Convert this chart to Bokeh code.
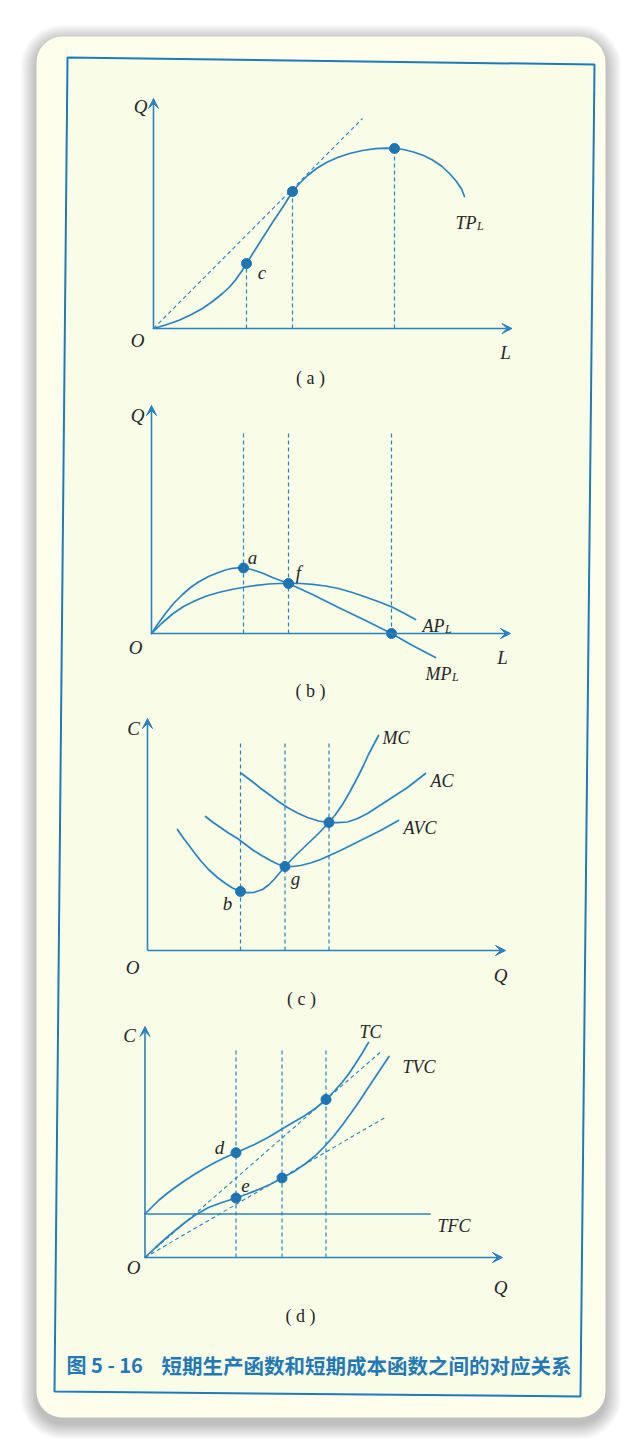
from bokeh.plotting import figure
from bokeh.models import Range1d, BoxAnnotation, Arrow, VeeHead, Label
from bokeh.embed import file_html
from bokeh.resources import INLINE

# ---------------- data (panel units, origin = 0,0) ----------------
# (a) total product curve TP_L
TP_L_x = [0, 1.2, 2.5, 3.7, 4.9, 5.9, 6.9, 7.6, 8.2, 8.8, 9.3, 10.5, 11.9, 13.1, 13.9, 14.6, 15.4,
          16.3, 17.3, 18.4, 19.6, 20.9, 22.2, 23.2, 24.1, 25.0, 26.0, 27.0, 27.9, 28.8, 29.6, 30.3,
          30.8, 31.1]
TP_L_y = [0, 0.35, 0.8, 1.35, 2.0, 2.7, 3.5, 4.15, 4.85, 5.7, 6.5, 8.4, 10.6, 12.4, 13.7, 14.5, 15.3,
          16.0, 16.6, 17.1, 17.5, 17.8, 17.98, 18.03, 18.0, 17.9, 17.65, 17.3, 16.85, 16.25, 15.5, 14.7,
          13.95, 13.2]
A_ray_x = [0, 20.9]
A_ray_y = [0, 21.0]
A_marks_x = [9.3, 13.9, 24.1]
A_marks_y = [6.5, 13.7, 18.0]

# (b) marginal and average product
MP_L_x = [0, 0.7, 1.4, 2.2, 3.1, 3.9, 4.7, 5.7, 6.7, 7.4, 8.0, 8.6, 9.2, 9.8, 10.4, 11.2, 12.1, 13.7,
          16.1, 18.7, 21.4, 24.0, 26.1, 28.4]
MP_L_y = [0, 1.05, 2.0, 3.0, 3.9, 4.6, 5.15, 5.7, 6.1, 6.35, 6.5, 6.57, 6.55, 6.45, 6.28, 6.0, 5.6, 5.0,
          3.9, 2.6, 1.3, 0.0, -1.2, -2.4]
AP_L_x = [0, 1.0, 2.1, 3.2, 4.4, 5.5, 6.7, 8.0, 9.4, 10.5, 11.7, 12.7, 13.7, 14.9, 16.1, 17.4, 18.7,
          20.0, 21.4, 22.8, 24.1, 25.3, 26.4]
AP_L_y = [0, 1.0, 1.95, 2.7, 3.3, 3.75, 4.1, 4.4, 4.65, 4.82, 4.95, 5.0, 5.02, 5.0, 4.92, 4.75, 4.5,
          4.12, 3.65, 3.15, 2.62, 2.0, 1.4]
B_marks_x = [9.2, 13.7, 24.0]
B_marks_y = [6.55, 5.0, 0.0]
B_vline_top = 20.3

# (c) marginal, average and average variable cost
MC_x = [3.0, 3.5, 4.0, 4.6, 5.3, 6.1, 7.0, 7.8, 8.5, 9.3, 10.0, 10.7, 11.5, 12.1, 12.7, 13.2, 13.75,
        14.8, 16.0, 17.1, 18.15, 18.8, 19.5, 20.2, 21.0, 21.6, 22.1, 22.6, 23.1]
MC_y = [12.1, 11.35, 10.7, 9.9, 9.0, 8.1, 7.3, 6.7, 6.25, 5.9, 5.78, 5.82, 6.1, 6.55, 7.15, 7.75, 8.4,
        9.5, 10.65, 11.7, 12.8, 13.6, 14.6, 15.8, 17.3, 18.5, 19.6, 20.55, 21.5]
AVC_x = [5.8, 6.5, 7.3, 8.1, 9.0, 9.8, 10.6, 11.5, 12.3, 13.0, 13.75, 14.5, 15.3, 16.3, 17.3, 18.3,
         19.3, 20.3, 21.3, 22.3, 23.3, 24.2, 25.1]
AVC_y = [13.4, 12.85, 12.3, 11.75, 11.2, 10.6, 10.0, 9.45, 9.0, 8.65, 8.4, 8.4, 8.5, 8.75, 9.1, 9.55,
         10.0, 10.5, 11.0, 11.5, 12.0, 12.5, 13.0]
AC_x = [9.4, 10.0, 10.6, 11.4, 12.3, 13.1, 14.0, 15.0, 16.0, 17.1, 18.15, 19.0, 20.0, 21.0, 22.0, 23.0,
        24.0, 25.0, 26.0, 26.9, 27.8]
AC_y = [17.7, 17.25, 16.8, 16.15, 15.5, 14.9, 14.3, 13.75, 13.3, 12.95, 12.8, 12.78, 12.85, 13.2, 13.7,
        14.35, 15.0, 15.65, 16.3, 17.0, 17.7]
C_marks_x = [9.3, 13.75, 18.15]
C_marks_y = [5.9, 8.4, 12.8]
C_vline_top = 20.7

# (d) total, total variable and total fixed cost
TC_x = [0, 0.7, 1.35, 2.2, 3.0, 4.0, 5.0, 6.0, 7.0, 8.0, 9.1, 10.0, 11.0, 12.3, 13.7, 14.8, 16.0, 17.1,
        18.1, 18.9, 19.7, 20.4, 21.0, 21.7, 22.35]
TC_y = [4.35, 5.05, 5.7, 6.4, 7.0, 7.7, 8.35, 8.95, 9.5, 10.0, 10.48, 10.88, 11.33, 12.0, 12.85, 13.5,
        14.2, 14.95, 15.8, 16.6, 17.5, 18.4, 19.3, 20.4, 21.5]
TVC_x = [0, 1.0, 2.0, 3.0, 4.0, 5.1, 6.35, 7.7, 9.1, 10.2, 11.35, 12.5, 13.7, 14.9, 16.0, 17.0, 17.85,
         18.8, 19.7, 20.5, 21.35, 22.2, 23.0, 23.7, 24.4]
TVC_y = [0, 0.95, 1.85, 2.7, 3.5, 4.3, 5.0, 5.5, 5.95, 6.35, 6.8, 7.3, 7.95, 8.6, 9.35, 10.15, 11.0,
         12.05, 13.2, 14.3, 15.5, 16.8, 18.0, 19.05, 20.1]
TFC_x = [0, 28.5]
TFC_y = [4.35, 4.35]
D_ray1_x = [0, 23.5]
D_ray1_y = [0, 20.5]
D_ray2_x = [0, 24.0]
D_ray2_y = [0, 14.0]
D_marks_x = [9.1, 18.1, 9.1, 13.7]
D_marks_y = [10.48, 15.8, 5.95, 7.95]
D_vlines_x = [9.1, 13.7, 18.1]
D_vline_top = 20.7

# axis lengths (x tip, y tip) per panel
AXIS_TIPS = {"a": (35.85, 23.0), "b": (35.9, 22.8), "c": (35.8, 23.2), "d": (35.75, 23.1)}

# ---------------- layout / style ----------------
W, H = 642, 1454
S = 10.0  # px per panel unit
ORIGINS = {"a": (153, 328), "b": (151, 633), "c": (147, 950), "d": (144.5, 1257)}
BLUE = "#2a82bf"
DOT = "#1f74b3"
INK = "#262626"
CARD = "#FDFFEC"
INNER = "#F9FDE8"
SERIF = "Liberation Serif"


def Y(py):
    return H - py


p = figure(width=W, height=H, x_range=Range1d(0, W), y_range=Range1d(0, H),
           x_axis_type=None, y_axis_type=None, output_backend="svg",
           toolbar_location=None, min_border=0, outline_line_color=None,
           background_fill_color="#FFFFFF", border_fill_color="#FFFFFF")

p.extra_x_ranges = {k: Range1d(-ox / S, (W - ox) / S) for k, (ox, oy) in ORIGINS.items()}
p.extra_y_ranges = {k: Range1d((oy - H) / S, oy / S) for k, (ox, oy) in ORIGINS.items()}

# card shadow and card
for s in range(16, 0, -1):
    p.add_layout(BoxAnnotation(left=36 - s, right=605 + s, top=Y(36 - s + 4), bottom=Y(1417 + s + 6),
                               fill_color="#000000", fill_alpha=0.014, line_color=None,
                               border_radius=26 + s, level="underlay"))
p.add_layout(BoxAnnotation(left=36, right=605, top=Y(36), bottom=Y(1417), fill_color=CARD,
                           fill_alpha=1.0, line_color=None, border_radius=26, level="underlay"))

# scanned frame (slightly skewed)
p.patch([67, 594, 580, 54], [Y(57), Y(64), Y(1396), Y(1391)], fill_color=INNER,
        line_color="#1f7ab8", line_width=2)


def kw(k):
    return dict(x_range_name=k, y_range_name=k)


def axes(k):
    xt, yt = AXIS_TIPS[k]
    for (xe, ye) in [(xt, 0), (0, yt)]:
        p.add_layout(Arrow(end=VeeHead(size=10, fill_color=BLUE, line_color=BLUE, line_width=1),
                           x_start=0, y_start=0, x_end=xe, y_end=ye,
                           line_color=BLUE, line_width=1.6, **kw(k)))


def curve(k, xs, ys, dash=None):
    if dash:
        p.line(xs, ys, line_color=BLUE, line_width=1.1, line_dash=dash, **kw(k))
    else:
        p.line(xs, ys, line_color=BLUE, line_width=1.7, line_cap="round", line_join="round", **kw(k))


def vlines(k, xs, tops):
    p.segment(x0=xs, y0=[0] * len(xs), x1=xs, y1=tops, line_color=BLUE, line_width=1.2,
              line_dash="4 3", **kw(k))


def dots(k, xs, ys):
    p.scatter(xs, ys, size=10, fill_color=DOT, line_color=DOT, **kw(k))


# (a)
axes("a")
curve("a", A_ray_x, A_ray_y, dash="4 3")
vlines("a", A_marks_x, A_marks_y)
curve("a", TP_L_x, TP_L_y)
dots("a", A_marks_x, A_marks_y)

# (b)
axes("b")
vlines("b", B_marks_x, [B_vline_top] * 3)
curve("b", AP_L_x, AP_L_y)
curve("b", MP_L_x, MP_L_y)
dots("b", B_marks_x, B_marks_y)

# (c)
axes("c")
vlines("c", C_marks_x, [C_vline_top] * 3)
curve("c", AC_x, AC_y)
curve("c", AVC_x, AVC_y)
curve("c", MC_x, MC_y)
dots("c", C_marks_x, C_marks_y)

# (d)
axes("d")
vlines("d", D_vlines_x, [D_vline_top] * 3)
curve("d", D_ray1_x, D_ray1_y, dash="4 3")
curve("d", D_ray2_x, D_ray2_y, dash="4 3")
curve("d", TFC_x, TFC_y)
curve("d", TC_x, TC_y)
curve("d", TVC_x, TVC_y)
dots("d", D_marks_x, D_marks_y)


# ---------------- text ----------------
def label(text, x, y, size=18, align="center", base="middle", style="italic", font=SERIF,
          color=INK):
    p.add_layout(Label(x=x, y=Y(y), text=text, text_align=align, text_baseline=base,
                       text_font=font, text_font_style=style, text_font_size=f"{size}px",
                       text_color=color))


def sub_label(main, sub, x, y, main_w):
    label(main, x, y, align="left", base="alphabetic")
    label(sub, x + main_w, y + 3.5, size=12, align="left", base="alphabetic")


# axis letters
for t, x, y in [("Q", 140, 106), ("O", 137, 340), ("L", 505, 352),
                ("Q", 137, 415), ("O", 135, 647), ("L", 502, 657),
                ("C", 133, 728), ("O", 132, 967), ("Q", 500, 975),
                ("C", 129, 1035), ("O", 133, 1267), ("Q", 500, 1287)]:
    label(t, x, y, size=19)

# point letters
for t, x, y in [("c", 261.5, 272), ("a", 252, 557), ("f", 298, 572), ("g", 295, 878),
                ("b", 227, 903), ("d", 219, 1147), ("e", 245, 1185)]:
    label(t, x, y, size=19)

# curve names
sub_label("TP", "L", 455, 222, 21.5)
sub_label("AP", "L", 422, 625, 22.5)
sub_label("MP", "L", 425, 673, 26.5)
for t, x, y in [("MC", 382, 737), ("AC", 430, 780), ("AVC", 403, 827),
                ("TC", 359, 1031), ("TVC", 402, 1066), ("TFC", 437, 1225)]:
    label(t, x, y, align="left", base="alphabetic")

# panel captions
for t, x, y in [("( a )", 310, 377), ("( b )", 310, 690), ("( c )", 301, 998), ("( d )", 300, 1315)]:
    label(t, x, y, size=18, style="normal")

# figure caption
CAP_BLUE = "#2478b5"
label("图 5 - 16", 66, 1364, size=20, align="left", style="bold", font="Noto Sans CJK SC",
      color=CAP_BLUE)
label("短期生产函数和短期成本函数之间的对应关系", 161, 1364, size=20.5, align="left", style="bold",
      font="Noto Sans CJK SC", color=CAP_BLUE)

open("out.html", "w").write(file_html(p, INLINE))
